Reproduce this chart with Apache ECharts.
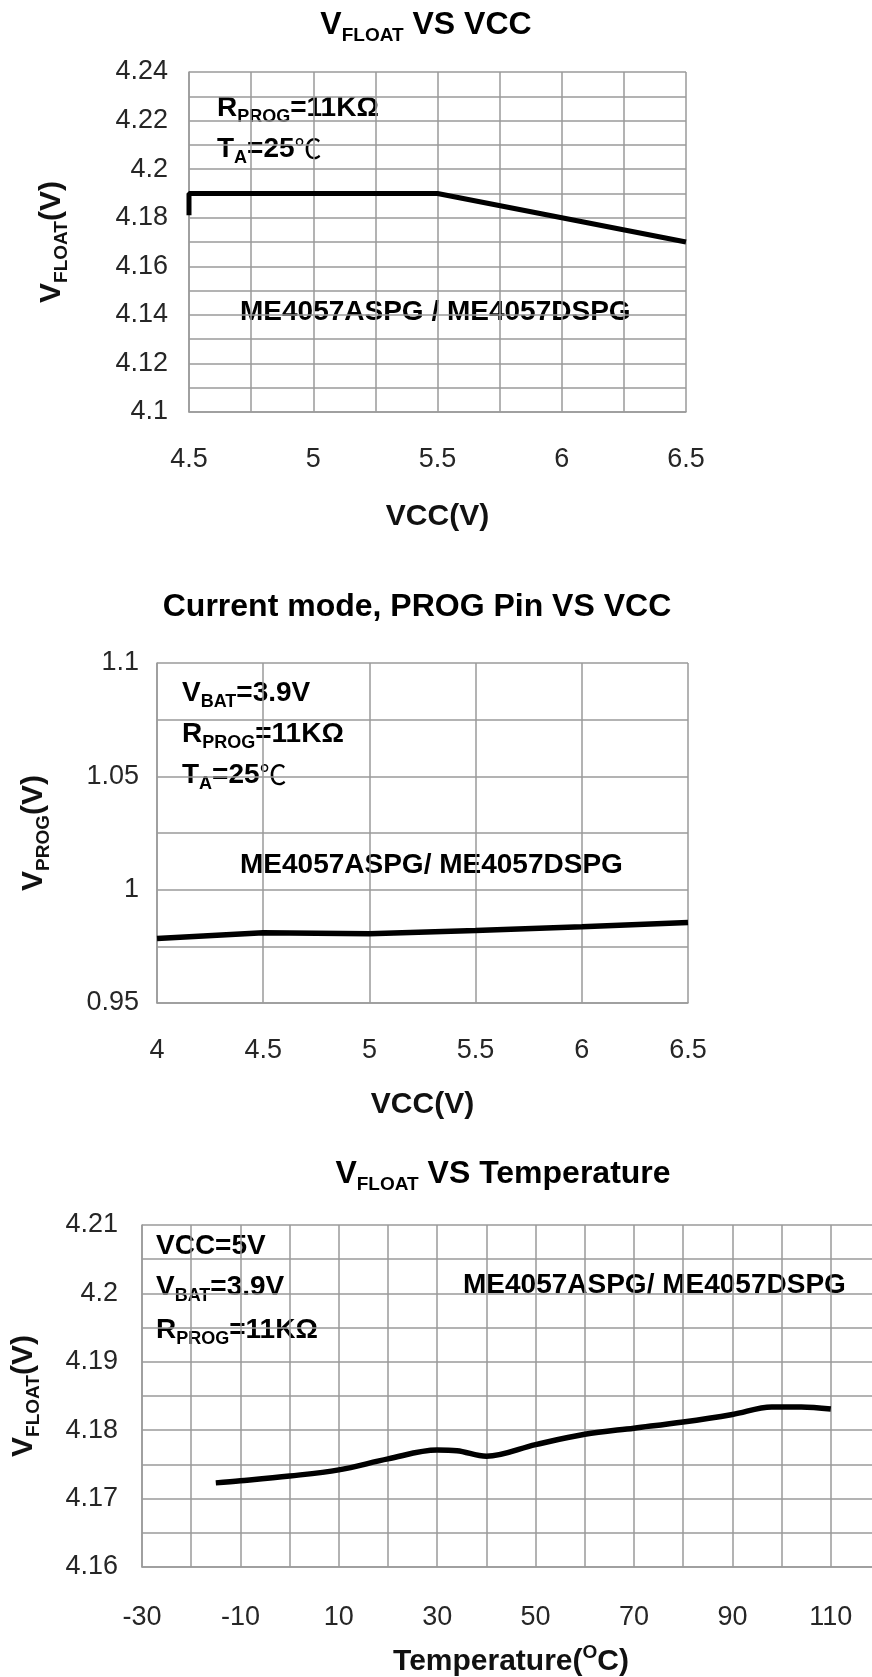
<!DOCTYPE html>
<html>
<head>
<meta charset="utf-8">
<script src="https://cdn.jsdelivr.net/npm/echarts@6.0.0/dist/echarts.min.js"></script>
<style>
html,body{margin:0;padding:0;background:#fff;}
#chart{width:872px;height:1677px;}
</style>
</head>
<body>
<div id="chart"></div>
<script>
// ---- Data ----
// Chart 1: VFLOAT vs VCC
const vccFloatX = [4.5, 4.5, 5.5, 6, 6.5];
const vccFloatY = [4.181, 4.19, 4.19, 4.18, 4.17];
// Chart 2: PROG pin voltage vs VCC
const progX = [4, 4.5, 5, 5.5, 6, 6.5];
const progY = [0.9785, 0.981, 0.9806, 0.982, 0.9836, 0.9855];
// Chart 3: VFLOAT vs Temperature
const tempX = [-15, -10, 0, 10, 20, 30, 34, 40, 50, 60, 70, 80, 90, 98, 104, 110];
const tempY = [4.1723, 4.1726, 4.1733, 4.1742, 4.1758, 4.1771, 4.1770, 4.1762, 4.1779, 4.1794, 4.1803, 4.1812, 4.1823, 4.1834, 4.1834, 4.1831];

// Titles / labels
const titles = ['{m|V}{s|FLOAT}{m| VS VCC}', '{m|Current mode, PROG Pin VS VCC}', '{m|V}{s|FLOAT}{m| VS Temperature}'];
const partLabel = 'ME4057ASPG';
const partLabel2 = 'ME4057DSPG';

const F = "'Liberation Sans', Arial, sans-serif";
const GRID_COLOR = '#9a9a9a';
const LABEL_COLOR = '#262626';

const nameRich = {
  m: {fontSize: 30, fontWeight: 'bold', fontFamily: F, color: '#111', lineHeight: 38},
  s: {fontSize: 19, fontWeight: 'bold', fontFamily: F, color: '#111', lineHeight: 18, verticalAlign: 'bottom'},
  sup: {fontSize: 19, fontWeight: 'bold', fontFamily: F, color: '#111', lineHeight: 18, verticalAlign: 'top'}
};
const titleRich = {
  m: {fontSize: 32, fontWeight: 'bold', fontFamily: F, color: '#000', lineHeight: 40},
  s: {fontSize: 19, fontWeight: 'bold', fontFamily: F, color: '#000', lineHeight: 19, verticalAlign: 'bottom'}
};
const noteRich = {
  m: {fontSize: 28, fontWeight: 'bold', fontFamily: F, color: '#000', lineHeight: 36},
  s: {fontSize: 18, fontWeight: 'bold', fontFamily: F, color: '#000', lineHeight: 18, verticalAlign: 'bottom'},
  c: {fontSize: 27, fontWeight: 'normal', fontFamily: "'Noto Sans CJK SC', sans-serif", color: '#000', lineHeight: 36}
};

function zip(a, b) { return a.map((v, i) => [v, b[i]]); }

const splitLine = {show: true, lineStyle: {color: GRID_COLOR, width: 1.5}};
const axisLine = {show: true, onZero: false, lineStyle: {color: GRID_COLOR, width: 1.5}};
const labelStyle = (margin) => ({fontSize: 27, color: LABEL_COLOR, fontFamily: F, margin: margin});

function xAxisCfg(gi, min, max, interval, minorSplit, margin, name, nameGap, extra) {
  return Object.assign({
    type: 'value', gridIndex: gi, min: min, max: max, interval: interval,
    axisLine: axisLine, axisTick: {show: false},
    splitLine: splitLine,
    minorTick: {show: false, splitNumber: minorSplit || 5},
    minorSplitLine: {show: !!minorSplit, lineStyle: {color: GRID_COLOR, width: 1.5}},
    axisLabel: labelStyle(margin),
    name: name, nameLocation: 'middle', nameGap: nameGap,
    nameTextStyle: {rich: nameRich}
  }, extra || {});
}
function yAxisCfg(gi, min, max, interval, minorSplit, margin, name, nameGap) {
  return {
    type: 'value', gridIndex: gi, min: min, max: max, interval: interval,
    axisLine: axisLine, axisTick: {show: false},
    splitLine: splitLine,
    minorTick: {show: false, splitNumber: minorSplit || 5},
    minorSplitLine: {show: !!minorSplit, lineStyle: {color: GRID_COLOR, width: 1.5}},
    axisLabel: labelStyle(margin),
    name: name, nameLocation: 'middle', nameGap: nameGap, nameRotate: 90,
    nameTextStyle: {rich: nameRich}
  };
}

function note(x, y, text) {
  return {type: 'text', x: x, y: y, silent: true,
    style: {text: text, rich: noteRich, align: 'left', verticalAlign: 'middle'}};
}
function titleEl(x, y, text) {
  return {type: 'text', x: x, y: y, silent: true,
    style: {text: text, rich: titleRich, align: 'center', verticalAlign: 'middle'}};
}

const option = {
  animation: false,
  backgroundColor: '#fff',
  grid: [
    {left: 189, top: 72, width: 497, height: 340, outerBoundsMode: 'none', containLabel: false},
    {left: 157, top: 663, width: 531, height: 340, outerBoundsMode: 'none', containLabel: false},
    {left: 142, top: 1225, width: 738, height: 342, outerBoundsMode: 'none', containLabel: false}
  ],
  xAxis: [
    xAxisCfg(0, 4.5, 6.5, 0.5, 2, 34, '{m|VCC(V)}', 86),
    xAxisCfg(1, 4, 6.5, 0.5, 0, 34, '{m|VCC(V)}', 83),
    xAxisCfg(2, -30, 120, 10, 0, 37, '{m|Temperature(}{sup|O}{m|C)}', 76, {
      axisLabel: Object.assign(labelStyle(37), {formatter: v => ((v + 30) % 20 === 0 ? String(v) : '')})
    })
  ],
  yAxis: [
    yAxisCfg(0, 4.1, 4.24, 0.02, 2, 21, '{m|V}{s|FLOAT}{m|(V)}', 118),
    yAxisCfg(1, 0.95, 1.1, 0.05, 2, 18, '{m|V}{s|PROG}{m|(V)}', 104),
    yAxisCfg(2, 4.16, 4.21, 0.01, 2, 24, '{m|V}{s|FLOAT}{m|(V)}', 99)
  ],
  series: [
    {type: 'line', xAxisIndex: 0, yAxisIndex: 0, data: zip(vccFloatX, vccFloatY),
      showSymbol: false, lineStyle: {color: '#000', width: 5}},
    {type: 'line', xAxisIndex: 1, yAxisIndex: 1, data: zip(progX, progY),
      showSymbol: false, lineStyle: {color: '#000', width: 5.5}},
    {type: 'line', xAxisIndex: 2, yAxisIndex: 2, data: zip(tempX, tempY), smooth: 0.35,
      showSymbol: false, lineStyle: {color: '#000', width: 5.5}}
  ],
  graphic: [
    titleEl(426, 25, titles[0]),
    titleEl(417, 607, titles[1]),
    titleEl(503, 1174, titles[2]),
    note(217, 108, '{m|R}{s|PROG}{m|=11KΩ}'),
    note(217, 149, '{m|T}{s|A}{m|=25}{c|℃}'),
    note(240, 312, '{m|' + partLabel + ' / ' + partLabel2 + '}'),
    note(182, 693, '{m|V}{s|BAT}{m|=3.9V}'),
    note(182, 734, '{m|R}{s|PROG}{m|=11KΩ}'),
    note(182, 775, '{m|T}{s|A}{m|=25}{c|℃}'),
    note(240, 865, '{m|' + partLabel + '/ ' + partLabel2 + '}'),
    note(156, 1246, '{m|VCC=5V}'),
    note(156, 1287, '{m|V}{s|BAT}{m|=3.9V}'),
    note(156, 1330, '{m|R}{s|PROG}{m|=11KΩ}'),
    note(463, 1285, '{m|' + partLabel + '/ ' + partLabel2 + '}')
  ]
};

const chart = echarts.init(document.getElementById('chart'), null, {renderer: 'canvas', width: 872, height: 1677});
chart.setOption(option);
</script>
</body>
</html>
